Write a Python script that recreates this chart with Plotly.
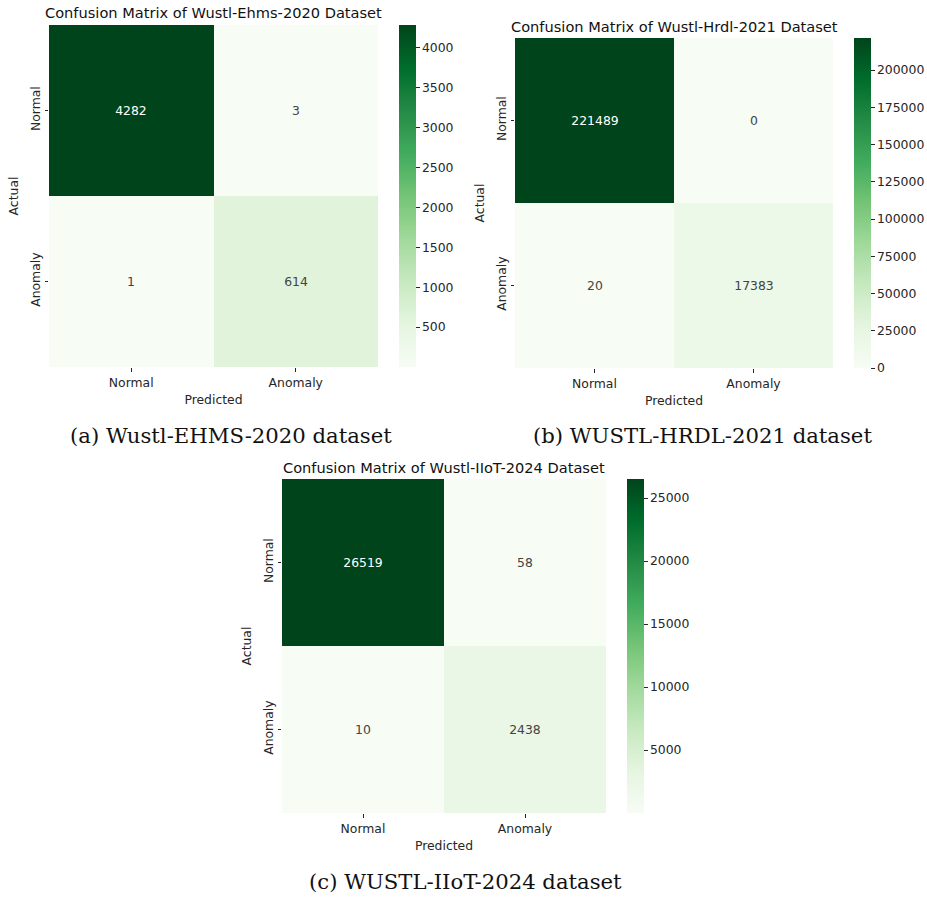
import plotly.graph_objects as go

W, H = 927, 897

labels = ["Normal", "Anomaly"]

# confusion matrices (rows = actual, cols = predicted)
ehms_2020 = [[4282, 3], [1, 614]]
hrdl_2021 = [[221489, 0], [20, 17383]]
iiot_2024 = [[26519, 58], [10, 2438]]

titles = [
    "Confusion Matrix of Wustl-Ehms-2020 Dataset",
    "Confusion Matrix of Wustl-Hrdl-2021 Dataset",
    "Confusion Matrix of Wustl-IIoT-2024 Dataset",
]
captions = [
    "(a) Wustl-EHMS-2020 dataset",
    "(b) WUSTL-HRDL-2021 dataset",
    "(c) WUSTL-IIoT-2024 dataset",
]
cbar_dticks = [500, 25000, 5000]

greens = [
    [0.0, "rgb(247,252,245)"], [0.125, "rgb(229,245,224)"], [0.25, "rgb(199,233,192)"],
    [0.375, "rgb(161,217,155)"], [0.5, "rgb(116,196,118)"], [0.625, "rgb(65,171,93)"],
    [0.75, "rgb(35,139,69)"], [0.875, "rgb(0,109,44)"], [1.0, "rgb(0,68,27)"],
]

# panel geometry in pixels: heatmap box (x0, x1, y0, y1), colorbar left x,
# caption centre (x, y), title y
panels = [
    dict(box=(49, 378, 25, 367), cbx=399, cap=(231, 435), title_y=13),
    dict(box=(515, 833, 38, 368), cbx=854, cap=(702, 435), title_y=27),
    dict(box=(282, 606, 479, 813), cbx=627, cap=(466, 881), title_y=467),
]

TXT = "#262626"
SANS = "DejaVu Sans"
FS = 12.4

fig = go.Figure()
annotations = []
mats = [ehms_2020, hrdl_2021, iiot_2024]

for i, (mat, p) in enumerate(zip(mats, panels)):
    x0, x1, y0, y1 = p["box"]
    ax = "" if i == 0 else str(i + 1)
    flat = [v for row in mat for v in row]
    zmin, zmax = min(flat), max(flat)
    fig.add_trace(go.Heatmap(
        z=mat, x=labels, y=labels,
        xaxis="x" + ax, yaxis="y" + ax,
        zmin=zmin, zmax=zmax,
        colorscale=greens,
        texttemplate="%{z:d}",
        textfont=dict(family=SANS, size=FS),
        hoverinfo="skip",
        colorbar=dict(
            x=p["cbx"] / W, xanchor="left",
            y=1 - y0 / H, yanchor="top",
            len=(y1 - y0) / H, lenmode="fraction",
            thickness=17, thicknessmode="pixels",
            xpad=0, ypad=0, outlinewidth=0,
            tick0=0, dtick=cbar_dticks[i], tickformat="d",
            ticks="outside", ticklen=4, tickwidth=1, tickcolor=TXT,
            tickfont=dict(family=SANS, size=FS, color=TXT),
        ),
    ))
    fig.layout["xaxis" + ax] = dict(
        domain=[x0 / W, x1 / W], anchor="y" + ax,
        showgrid=False, zeroline=False, showline=False,
        ticks="outside", ticklen=4, tickcolor=TXT,
        tickfont=dict(family=SANS, size=FS, color=TXT),
        title=dict(text="Predicted", font=dict(family=SANS, size=FS, color=TXT), standoff=6),
    )
    fig.layout["yaxis" + ax] = dict(
        domain=[1 - y1 / H, 1 - y0 / H], anchor="x" + ax,
        autorange="reversed",
        showgrid=False, zeroline=False, showline=False,
        ticks="outside", ticklen=3, tickcolor=TXT, tickangle=-90,
        tickfont=dict(family=SANS, size=FS, color=TXT),
        title=dict(text="Actual", font=dict(family=SANS, size=FS, color=TXT), standoff=6),
    )
    annotations.append(dict(
        text=titles[i], xref="paper", yref="paper",
        x=(x0 + x1) / 2 / W, y=1 - p["title_y"] / H,
        xanchor="center", yanchor="middle", showarrow=False,
        font=dict(family=SANS, size=14.6, color="#111"),
    ))
    cx, cy = p["cap"]
    annotations.append(dict(
        text=captions[i], xref="paper", yref="paper",
        x=cx / W, y=1 - cy / H,
        xanchor="center", yanchor="middle", showarrow=False,
        font=dict(family="DejaVu Serif", size=21.2, color="#111"),
    ))

fig.update_layout(
    width=W, height=H,
    margin=dict(l=0, r=0, t=0, b=0),
    paper_bgcolor="white", plot_bgcolor="white",
    annotations=annotations,
    showlegend=False,
)

fig.write_html("out.html")
